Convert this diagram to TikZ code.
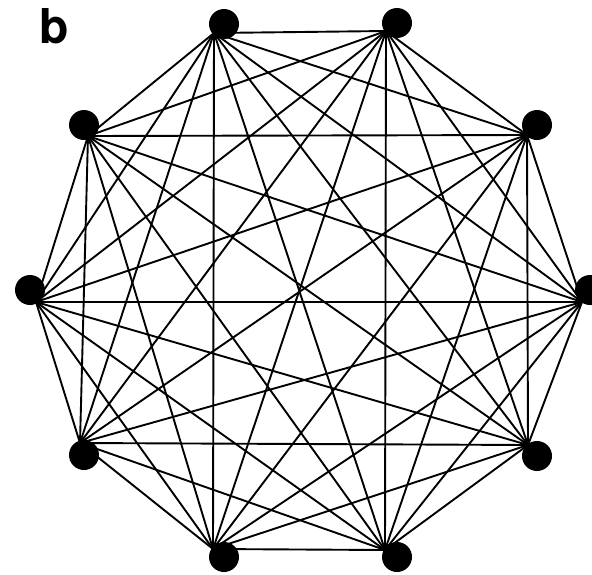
\documentclass[tikz,border=0pt]{standalone}
\usepackage{fontspec}
\setsansfont{TeX Gyre Heros}
\tikzset{
  vertex/.style={circle,fill=black,inner sep=0pt,minimum size=30pt},
  edge/.style={line width=1.9pt,black,line cap=round}
}

\begin{document}
\begin{tikzpicture}[x=1pt,y=-1pt]
      \useasboundingbox (0,0) rectangle (592,574);
      \node[font=\sffamily\bfseries\fontsize{48}{48}\selectfont] (lbl) at (54,26) {b};
      % where the lines meet each dot
      \foreach \i/\u/\w in {0/582/302,1/527/135,2/386/31,3/214/33,4/88/136,
                            5/36/302,6/80/443,7/213/549,8/385/550,9/528/445}
        \coordinate (p\i) at (\u,\w);
      % every pair joined
      \foreach \i in {0,...,8}{
        \pgfmathtruncatemacro{\k}{\i+1}
        \foreach \j in {\k,...,9}
          \draw[edge] (p\i) -- (p\j);
      }
      % the ten dots
      \foreach \i/\x/\y in {0/590/290,1/537/125,2/397/23,3/224/24,4/84/125,
                            5/30/290,6/84/455,7/224/557,8/397/557,9/537/456}
        \node[vertex] (v\i) at (\x,\y) {};
    \end{tikzpicture}
\end{document}
